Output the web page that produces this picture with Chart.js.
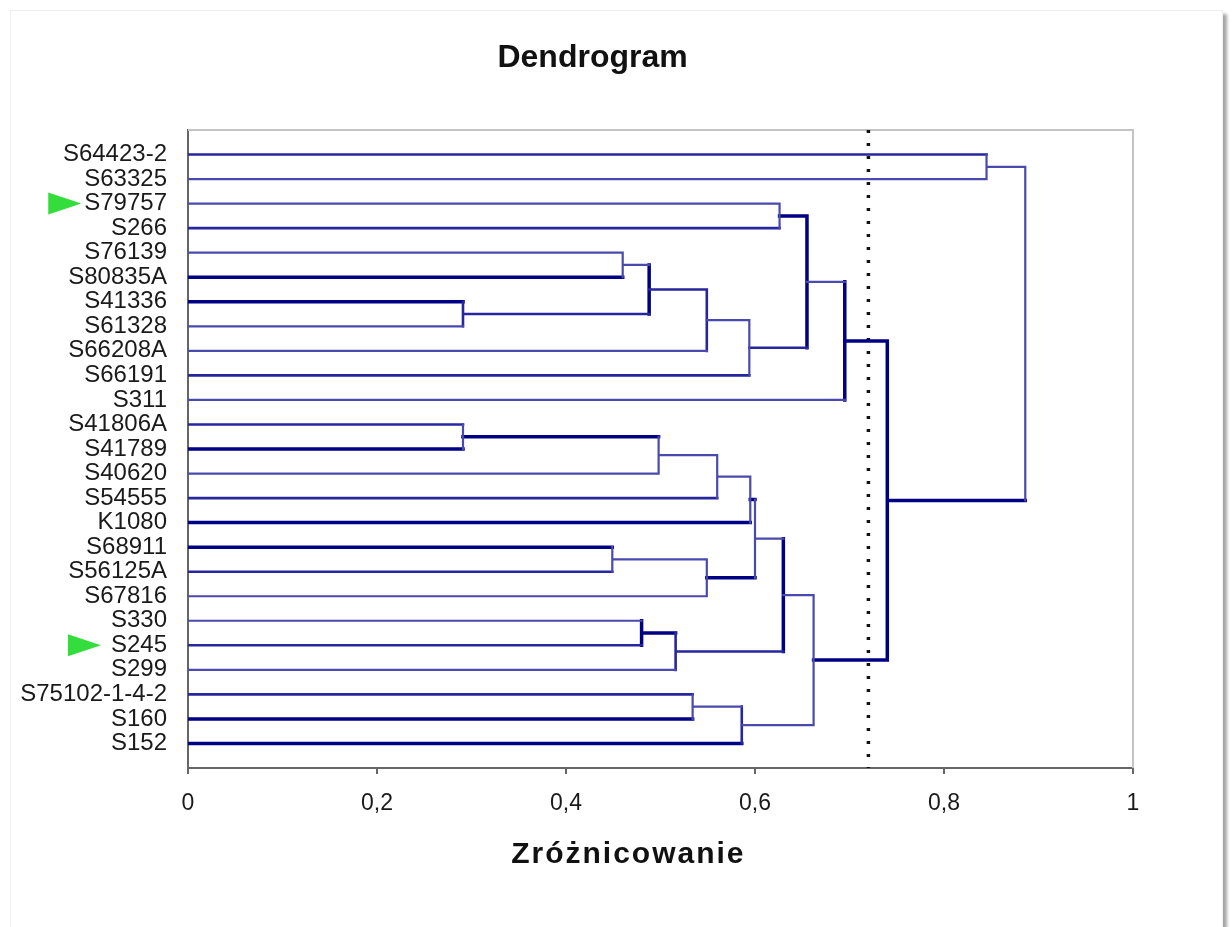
<!DOCTYPE html>
<html>
<head>
<meta charset="utf-8">
<title>Dendrogram</title>
<script src="https://cdn.jsdelivr.net/npm/chart.js@4"></script>
<style>
  html, body { margin: 0; padding: 0; background: #fff; overflow: hidden; }
  #wrap { position: relative; width: 1232px; height: 927px; }
  #frame { position: absolute; left: 10px; top: 10px; width: 1211px; height: 940px; border: 1px solid #efefef; box-shadow: 4px 4px 3px rgba(0,0,0,0.35); background: #fff; }
  #chart { position: absolute; left: 0; top: 0; }
</style>
</head>
<body>
<div id="wrap">
  <div id="frame"></div>
  <canvas id="chart" width="1232" height="927"></canvas>
</div>
<script>
// leaves, top to bottom
const leafLabels = ['S64423-2', 'S63325', 'S79757', 'S266', 'S76139', 'S80835A', 'S41336', 'S61328',
  'S66208A', 'S66191', 'S311', 'S41806A', 'S41789', 'S40620', 'S54555', 'K1080', 'S68911',
  'S56125A', 'S67816', 'S330', 'S245', 'S299', 'S75102-1-4-2', 'S160', 'S152'];

// merges: ids 0-24 are leaves, merge k gets id 25 + k
const mergeLeft   = [6, 11, 16, 4, 19, 28, 26, 29, 22, 30, 27, 31, 33, 34, 36, 39, 2, 40, 41, 42, 43, 45, 0, 47];
const mergeRight  = [7, 12, 17, 5, 20, 25, 13, 21, 23, 8, 18, 14, 24, 9, 15, 35, 3, 32, 38, 37, 10, 44, 1, 46];
const mergeHeight = [0.291, 0.291, 0.449, 0.460, 0.480, 0.488, 0.498, 0.516, 0.534, 0.549, 0.549, 0.560,
  0.586, 0.594, 0.595, 0.600, 0.626, 0.630, 0.655, 0.662, 0.695, 0.740, 0.845, 0.886];

const cutoffLevel = 0.72;
const markedLeaves = ['S79757', 'S245'];
const xTicks = [0, 0.2, 0.4, 0.6, 0.8, 1];

// line weight per merge: left arm, vertical, right arm (l = light, m = medium, t = thick)
const branchStyle = ['tml', 'mlt', 'tlm', 'llt', 'ltm', 'ltm', 'tll', 'tml', 'mlt', 'mml', 'lll', 'llm',
  'lmt', 'llm', 'llt', 'tlt', 'llm', 'ltm', 'ttm', 'lll', 'ltl', 'ttt', 'mll', 'llt'];

const styles = {
  l: { color: '#4a4aae', width: 2.2 },
  m: { color: '#26269e', width: 2.6 },
  t: { color: '#000084', width: 3.5 }
};

const FONT = "'Liberation Sans', Arial, sans-serif";
const LABEL_GAP = 21;
const markerGap = [3, 10];

// build the branch segments from the merge table
const nodeX = leafLabels.map(() => 0);
const nodeY = leafLabels.map((_, i) => i);
const segs = { l: [], m: [], t: [] };

function addSeg(code, a, b) {
  segs[code].push(a, b, { x: null, y: null });
}

mergeLeft.forEach((a, k) => {
  const b = mergeRight[k];
  const h = mergeHeight[k];
  const s = branchStyle[k];
  addSeg(s[0], { x: nodeX[a], y: nodeY[a] }, { x: h, y: nodeY[a] });
  addSeg(s[1], { x: h, y: nodeY[a] }, { x: h, y: nodeY[b] });
  addSeg(s[2], { x: nodeX[b], y: nodeY[b] }, { x: h, y: nodeY[b] });
  nodeX.push(h);
  nodeY.push((nodeY[a] + nodeY[b]) / 2);
});

const datasets = ['l', 'm', 't'].map(code => ({
  data: segs[code],
  showLine: true,
  spanGaps: false,
  borderColor: styles[code].color,
  borderWidth: styles[code].width,
  borderCapStyle: 'square',
  pointRadius: 0,
  pointHoverRadius: 0
}));

datasets.push({
  data: [{ x: cutoffLevel, y: -1 }, { x: cutoffLevel, y: leafLabels.length }],
  showLine: true,
  borderColor: '#111',
  borderWidth: 3.5,
  borderDash: [3, 10],
  pointRadius: 0,
  pointHoverRadius: 0
});

// light grey top/right edge of the plot area
const plotFrame = {
  id: 'plotFrame',
  beforeDatasetsDraw(chart) {
    const { ctx, chartArea: a } = chart;
    ctx.save();
    ctx.strokeStyle = '#c4c4c4';
    ctx.lineWidth = 2;
    ctx.beginPath();
    ctx.moveTo(a.left, a.top);
    ctx.lineTo(a.right, a.top);
    ctx.lineTo(a.right, a.bottom);
    ctx.stroke();
    ctx.restore();
  }
};

// titles and green arrows
const extras = {
  id: 'extras',
  afterDraw(chart) {
    const { ctx, chartArea: a } = chart;
    const yScale = chart.scales.y;
    ctx.save();
    ctx.font = '24px ' + FONT;
    ctx.fillStyle = '#33dd3c';
    markedLeaves.forEach((name, n) => {
      const i = leafLabels.indexOf(name);
      const y = yScale.getPixelForValue(i);
      const tip = a.left - LABEL_GAP - ctx.measureText(name).width - markerGap[n];
      ctx.beginPath();
      ctx.moveTo(tip, y);
      ctx.lineTo(tip - 33, y - 11);
      ctx.lineTo(tip - 33, y + 11);
      ctx.closePath();
      ctx.fill();
    });

    ctx.fillStyle = '#111';
    ctx.textAlign = 'center';
    ctx.textBaseline = 'middle';
    ctx.font = 'bold 32px ' + FONT;
    ctx.fillText('Dendrogram', chart.width * 0.481, 58);

    ctx.font = 'bold 30px ' + FONT;
    ctx.letterSpacing = '2px';
    ctx.fillText('Zróżnicowanie', chart.width * 0.51, a.bottom + 87);
    ctx.restore();
  }
};

new Chart(document.getElementById('chart'), {
  type: 'scatter',
  data: { datasets: datasets },
  plugins: [plotFrame, extras],
  options: {
    responsive: false,
    animation: false,
    events: [],
    layout: { padding: { left: 5, right: 99, top: 130, bottom: 0 } },
    plugins: {
      legend: { display: false },
      tooltip: { enabled: false },
      title: { display: false }
    },
    scales: {
      x: {
        type: 'linear',
        min: 0,
        max: 1,
        afterFit: s => { s.height = 159; },
        afterBuildTicks: s => { s.ticks = xTicks.map(v => ({ value: v })); },
        ticks: {
          color: '#1a1a1a',
          padding: 16,
          font: { family: FONT, size: 23 },
          callback: v => String(v).replace('.', ',')
        },
        grid: { drawOnChartArea: false, tickLength: 6, color: '#666', lineWidth: 2 },
        border: { color: '#666', width: 2 }
      },
      y: {
        type: 'linear',
        reverse: true,
        min: -1,
        max: leafLabels.length,
        afterFit: s => { s.width = 183; },
        afterBuildTicks: s => { s.ticks = leafLabels.map((_, i) => ({ value: i })); },
        ticks: {
          autoSkip: false,
          color: '#1a1a1a',
          padding: LABEL_GAP - 8,
          font: { family: FONT, size: 24 },
          callback: v => leafLabels[v]
        },
        grid: { display: false },
        border: { color: '#666', width: 2 }
      }
    }
  }
});
</script>
</body>
</html>
